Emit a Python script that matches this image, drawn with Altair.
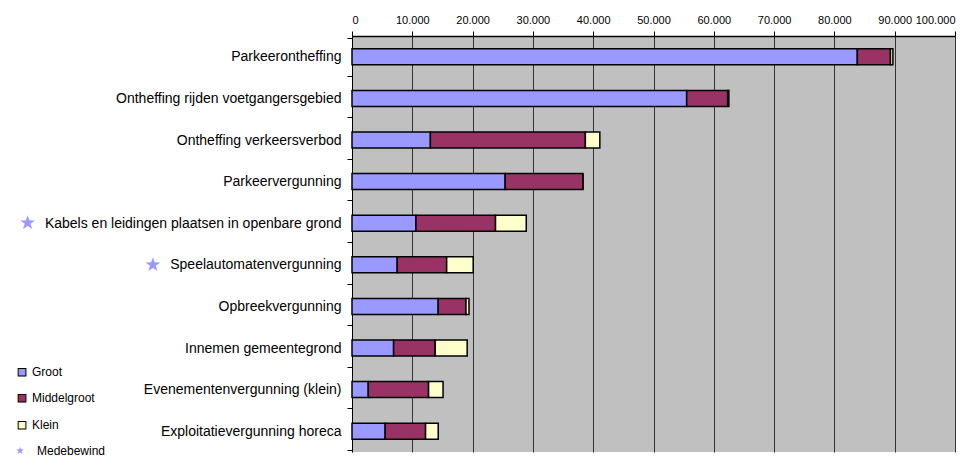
import altair as alt
import pandas as pd

# Permit categories, top to bottom
categories = [
    "Parkeerontheffing",
    "Ontheffing rijden voetgangersgebied",
    "Ontheffing verkeersverbod",
    "Parkeervergunning",
    "Kabels en leidingen plaatsen in openbare grond",
    "Speelautomatenvergunning",
    "Opbreekvergunning",
    "Innemen gemeentegrond",
    "Evenementenvergunning (klein)",
    "Exploitatievergunning horeca",
]

# Amounts per municipality size class
groot = [83800, 55500, 13000, 25400, 10600, 7500, 14300, 6900, 2700, 5500]
middelgroot = [5500, 6800, 25700, 12900, 13200, 8200, 4600, 6900, 10000, 6700]
klein = [400, 200, 2400, 0, 5100, 4400, 500, 5300, 2400, 2100]

classes = ["Groot", "Middelgroot", "Klein"]
class_colors = ["#9999FF", "#993366", "#FFFFCC"]

# Permits executed in co-government (marked with a star)
medebewind = [
    "Kabels en leidingen plaatsen in openbare grond",
    "Speelautomatenvergunning",
]
medebewind_label = "Medebewind"
STAR_COLOR = "#9999FF"

FONT = "Liberation Sans"
GLYPH_FONT = "DejaVu Sans"
LABEL_SIZE = 14
W, H = 603, 416
X_MAX = 100000
STEP = H / len(categories)

rows = []
for i, cat in enumerate(categories):
    for k, (cls, series) in enumerate(zip(classes, [groot, middelgroot, klein])):
        rows.append({"categorie": cat, "klasse": cls, "aantal": series[i], "volgorde": k})
bars_df = pd.DataFrame(rows)

x_scale = alt.Scale(domain=[0, X_MAX], nice=False)


def px_to_x(px):
    """Pixel offset from the plot's left edge, in x-scale units."""
    return px * X_MAX / W


bars = (
    alt.Chart(bars_df)
    .mark_bar(size=16, stroke="black", strokeWidth=1.5)
    .encode(
        y=alt.Y(
            "categorie:N",
            sort=categories,
            title=None,
            axis=alt.Axis(
                labelFont=FONT,
                labelFontSize=LABEL_SIZE,
                labelColor="black",
                labelLimit=500,
                labelPadding=6,
                tickBand="extent",
                tickSize=5,
                tickColor="black",
                domainColor="black",
                grid=False,
            ),
        ),
        x=alt.X(
            "sum(aantal):Q",
            stack="zero",
            title=None,
            scale=x_scale,
            axis=alt.Axis(
                orient="top",
                values=list(range(0, X_MAX + 1, 10000)),
                labelExpr="replace(format(datum.value, ','), ',', '.')",
                labelFont=FONT,
                labelFontSize=11,
                labelColor="black",
                labelPadding=6,
                tickSize=5,
                tickColor="black",
                domainColor="black",
                domainWidth=1.5,
                grid=True,
                gridColor="#333333",
                gridWidth=1,
            ),
        ),
        color=alt.Color(
            "klasse:N",
            scale=alt.Scale(domain=classes, range=class_colors),
            legend=None,
        ),
        order=alt.Order("volgorde:Q"),
    )
)

# Arial / Liberation Sans advance widths (per 1000 em)
_widths = {
    " ": 278, "a": 556, "b": 556, "c": 500, "d": 556, "e": 556, "f": 278, "g": 556,
    "h": 556, "i": 222, "j": 222, "k": 500, "l": 222, "m": 833, "n": 556, "o": 556,
    "p": 556, "q": 556, "r": 333, "s": 500, "t": 278, "u": 556, "v": 500, "w": 722,
    "x": 500, "y": 500, "z": 500, "K": 667, "S": 667, "P": 667, "O": 778, "E": 667,
    "I": 278, "(": 333, ")": 333,
}


def text_width(s, size):
    return sum(_widths.get(ch, 556) for ch in s) * size / 1000.0


def glyph_layer(df, dy=0, **mark_kw):
    return (
        alt.Chart(df)
        .mark_text(baseline="middle", dy=dy, **mark_kw)
        .encode(
            y=alt.Y("categorie:N", sort=categories, title=None),
            x=alt.X("sx:Q", title=None, scale=x_scale),
            text="glyph:N",
        )
    )


# star left of its axis label: tick + padding + label + gap
star_df = pd.DataFrame(
    {
        "categorie": medebewind,
        "sx": [px_to_x(-(5 + 6 + text_width(c, LABEL_SIZE) + 17)) for c in medebewind],
        "glyph": ["\u2605"] * len(medebewind),
    }
)
layers = [
    bars,
    glyph_layer(star_df, align="center", font=GLYPH_FONT, fontSize=19, color=STAR_COLOR),
]

# Key in the lower-left corner, hung from the last bands of the y scale
KEY_X = -330
key_rows = [  # (anchor category, pixel shift from its band centre)
    ("Innemen gemeentegrond", 24),
    ("Evenementenvergunning (klein)", 8),
    ("Exploitatievergunning horeca", -6),
    ("Exploitatievergunning horeca", 20),
]
for (anchor, dy), cls, col in zip(key_rows[:3], classes, class_colors):
    sq = pd.DataFrame({"categorie": [anchor], "sx": [px_to_x(KEY_X)], "glyph": ["\u25a0"]})
    lab = pd.DataFrame({"categorie": [anchor], "sx": [px_to_x(KEY_X + 10)], "glyph": [cls]})
    layers.append(
        glyph_layer(sq, dy=dy, align="center", font=GLYPH_FONT, fontSize=10,
                    fill=col, stroke="black", strokeWidth=1)
    )
    layers.append(glyph_layer(lab, dy=dy, align="left", font=FONT, fontSize=12, color="black"))

anchor, dy = key_rows[3]
mstar = pd.DataFrame({"categorie": [anchor], "sx": [px_to_x(KEY_X - 2)], "glyph": ["\u2605"]})
mlab = pd.DataFrame({"categorie": [anchor], "sx": [px_to_x(KEY_X + 15)], "glyph": [medebewind_label]})
layers.append(glyph_layer(mstar, dy=dy, align="center", font=GLYPH_FONT, fontSize=10, color=STAR_COLOR))
layers.append(glyph_layer(mlab, dy=dy, align="left", font=FONT, fontSize=12, color="black"))

chart = (
    alt.layer(*layers)
    .properties(
        width=W,
        height=H,
        autosize=alt.AutoSizeParams(type="none"),
        padding={"left": 352, "top": 36, "right": 22, "bottom": 4},
        background="white",
    )
    .configure_view(fill="#C0C0C0", stroke=None)
)

chart.save("out.html", embed_options={"renderer": "svg", "actions": False})
